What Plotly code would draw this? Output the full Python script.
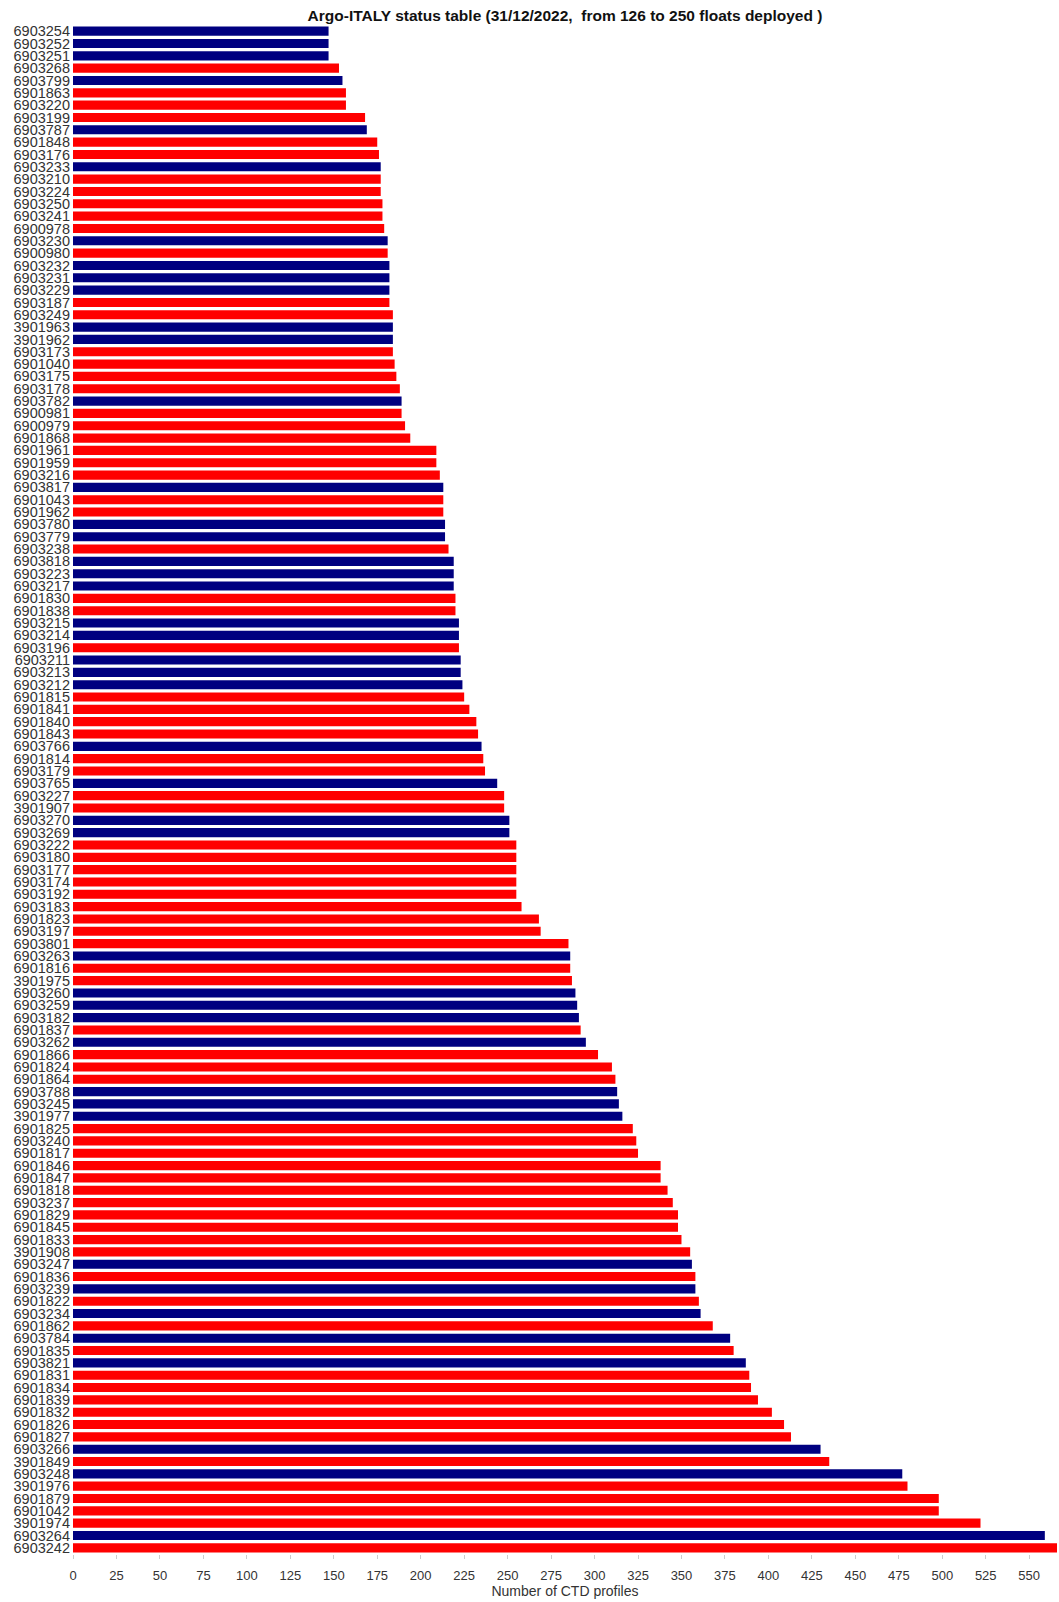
import plotly.graph_objects as go

floats = [
    "6903254", "6903252", "6903251", "6903268", "6903799", "6901863", "6903220", "6903199",
    "6903787", "6901848", "6903176", "6903233", "6903210", "6903224", "6903250", "6903241",
    "6900978", "6903230", "6900980", "6903232", "6903231", "6903229", "6903187", "6903249",
    "3901963", "3901962", "6903173", "6901040", "6903175", "6903178", "6903782", "6900981",
    "6900979", "6901868", "6901961", "6901959", "6903216", "6903817", "6901043", "6901962",
    "6903780", "6903779", "6903238", "6903818", "6903223", "6903217", "6901830", "6901838",
    "6903215", "6903214", "6903196", "6903211", "6903213", "6903212", "6901815", "6901841",
    "6901840", "6901843", "6903766", "6901814", "6903179", "6903765", "6903227", "3901907",
    "6903270", "6903269", "6903222", "6903180", "6903177", "6903174", "6903192", "6903183",
    "6901823", "6903197", "6903801", "6903263", "6901816", "3901975", "6903260", "6903259",
    "6903182", "6901837", "6903262", "6901866", "6901824", "6901864", "6903788", "6903245",
    "3901977", "6901825", "6903240", "6901817", "6901846", "6901847", "6901818", "6903237",
    "6901829", "6901845", "6901833", "3901908", "6903247", "6901836", "6903239", "6901822",
    "6903234", "6901862", "6903784", "6901835", "6903821", "6901831", "6901834", "6901839",
    "6901832", "6901826", "6901827", "6903266", "3901849", "6903248", "3901976", "6901879",
    "6901042", "3901974", "6903264", "6903242",
]

profiles = [
    147, 147, 147, 153, 155, 157, 157, 168,
    169, 175, 176, 177, 177, 177, 178, 178,
    179, 181, 181, 182, 182, 182, 182, 184,
    184, 184, 184, 185, 186, 188, 189, 189,
    191, 194, 209, 209, 211, 213, 213, 213,
    214, 214, 216, 219, 219, 219, 220, 220,
    222, 222, 222, 223, 223, 224, 225, 228,
    232, 233, 235, 236, 237, 244, 248, 248,
    251, 251, 255, 255, 255, 255, 255, 258,
    268, 269, 285, 286, 286, 287, 289, 290,
    291, 292, 295, 302, 310, 312, 313, 314,
    316, 322, 324, 325, 338, 338, 342, 345,
    348, 348, 350, 355, 356, 358, 358, 360,
    361, 368, 378, 380, 387, 389, 390, 394,
    402, 409, 413, 430, 435, 477, 480, 498,
    498, 522, 559, 575,
]

# A = active (blue), D = dead / inactive (red)
status = [
    "A", "A", "A", "D", "A", "D", "D", "D",
    "A", "D", "D", "A", "D", "D", "D", "D",
    "D", "A", "D", "A", "A", "A", "D", "D",
    "A", "A", "D", "D", "D", "D", "A", "D",
    "D", "D", "D", "D", "D", "A", "D", "D",
    "A", "A", "D", "A", "A", "A", "D", "D",
    "A", "A", "D", "A", "A", "A", "D", "D",
    "D", "D", "A", "D", "D", "A", "D", "D",
    "A", "A", "D", "D", "D", "D", "D", "D",
    "D", "D", "D", "A", "D", "D", "A", "A",
    "A", "D", "A", "D", "D", "D", "A", "A",
    "A", "D", "D", "D", "D", "D", "D", "D",
    "D", "D", "D", "D", "A", "D", "A", "D",
    "A", "D", "A", "D", "A", "D", "D", "D",
    "D", "D", "D", "A", "D", "A", "D", "D",
    "D", "D", "A", "D",
]

status_colors = {"A": "#000080", "D": "#ff0000"}
x_ticks = list(range(0, 551, 25))

fig = go.Figure(
    go.Bar(
        x=profiles,
        y=floats,
        orientation="h",
        marker=dict(color=[status_colors[s] for s in status], line=dict(width=0)),
        width=0.74,
        showlegend=False,
    )
)

fig.update_layout(
    width=1059,
    height=1602,
    margin=dict(l=73, r=2, t=25, b=48),
    paper_bgcolor="white",
    plot_bgcolor="white",
    font=dict(family="Liberation Sans, Arial, sans-serif", color="#222222"),
    title=dict(
        text="<b>Argo-ITALY status table (31/12/2022,  from 126 to 250 floats deployed )</b>",
        x=0.5,
        xref="paper",
        y=1 - 16 / 1602,
        yref="container",
        yanchor="middle",
        font=dict(size=15.5, color="#111111"),
    ),
    xaxis=dict(
        range=[0, 566],
        tickvals=x_ticks,
        ticktext=[str(v) for v in x_ticks],
        tickfont=dict(size=13, color="#333333"),
        ticks="outside",
        ticklen=4,
        tickcolor="#cccccc",
        ticklabelstandoff=5,
        showgrid=False,
        zeroline=False,
        showline=False,
        title=dict(text="Number of CTD profiles", font=dict(size=14, color="#333333"), standoff=4),
    ),
    yaxis=dict(
        type="category",
        categoryorder="array",
        categoryarray=floats,
        tickmode="array",
        tickvals=floats,
        ticktext=floats,
        autorange="reversed",
        tickfont=dict(size=14.5, color="#333333"),
        ticks="",
        showgrid=False,
        zeroline=False,
        showline=False,
        ticklabelstandoff=2,
    ),
    bargap=0.26,
)

fig.write_html(
    "out.html",
    config={"displayModeBar": False},
    post_script="document.body.style.margin='0';document.body.style.overflow='hidden';",
)
